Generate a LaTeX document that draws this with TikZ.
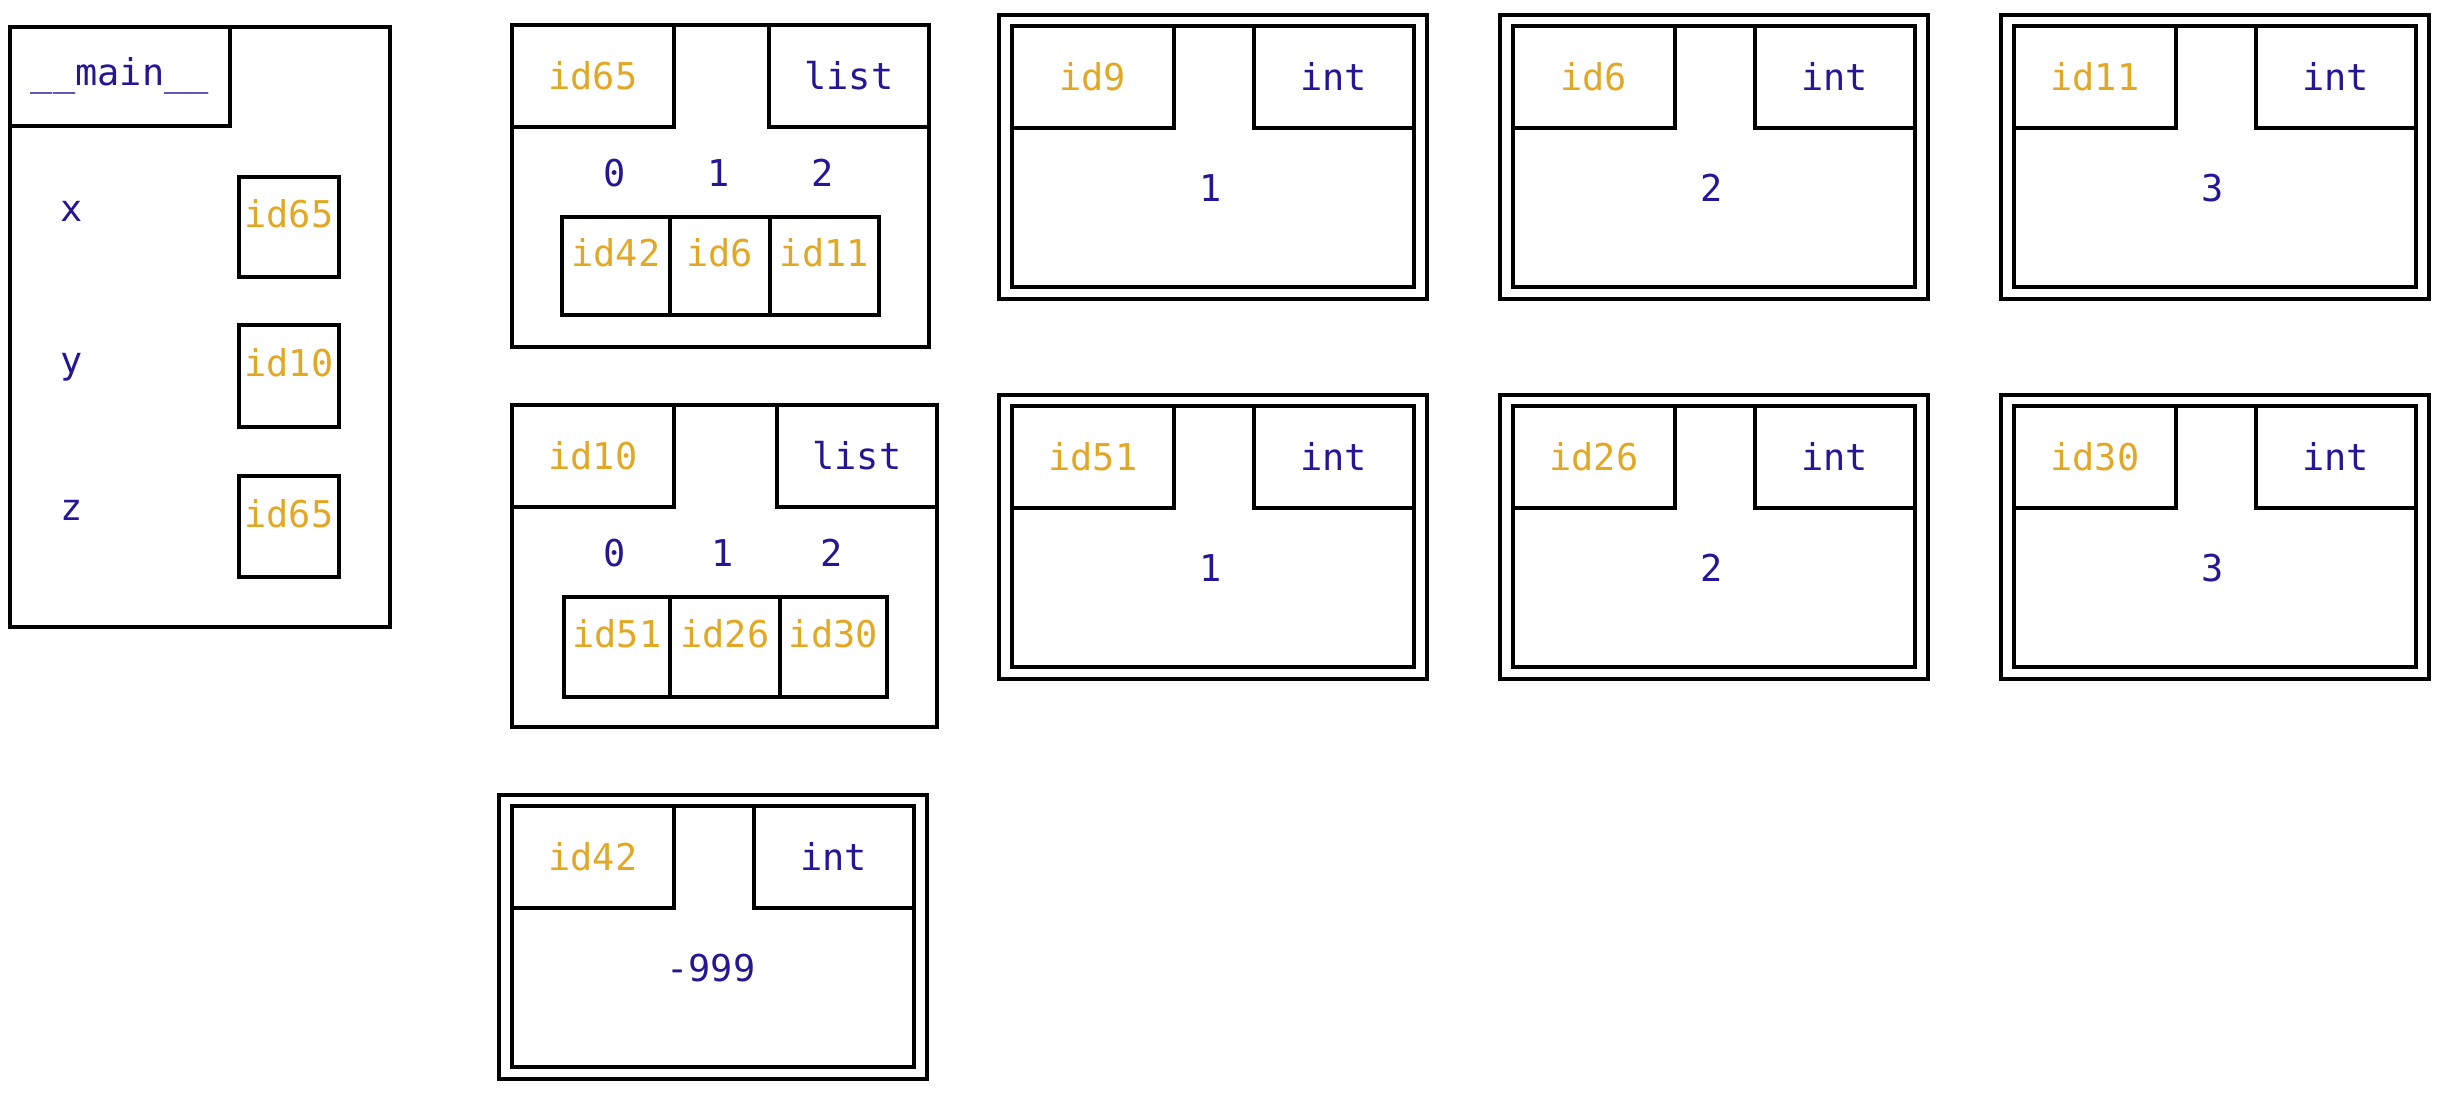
\documentclass[tikz,border=0pt]{standalone}
\usepackage{fontspec}
\setmonofont{DejaVu Sans Mono}
\definecolor{idgold}{RGB}{226,168,36}
\definecolor{tynavy}{RGB}{36,22,150}
\begin{document}
\begin{tikzpicture}[x=0.01cm, y=-0.01cm,
    every node/.style={font=\fontsize{10.5}{12}\selectfont\ttfamily},
    frame/.style={draw, line width=1pt, inner sep=0pt, anchor=north west},
    hdbox/.style={frame, minimum width=1.62cm, minimum height=1.02cm},
    tybox/.style={hdbox, minimum width=1.6cm, text=tynavy},
    refbox/.style={frame, text=idgold, text height=8pt, text depth=7.5pt},
    tyname/.style={text=tynavy, text height=1.5ex, text depth=.25ex},
    intout/.style={frame, minimum width=4.28cm, minimum height=2.84cm},
    intin/.style={frame, minimum width=4.02cm, minimum height=2.61cm}]
   \useasboundingbox (0,0) rectangle (2456,1099);
   % the frame __main__
   \node[frame, minimum width=3.8cm, minimum height=6cm] (main) at (8,25) {};
   \node[hdbox, minimum width=2.2cm, minimum height=0.99cm, text=tynavy] (mainhd) at (8,25) {\_\_main\_\_};
   \node[tyname] (vx) at (72,212) {x};
   \node[tyname] (vy) at (72,364) {y};
   \node[tyname] (vz) at (72,511) {z};
   \node[refbox, minimum width=1cm, minimum height=1cm] (rx) at (237,175) {id65};
   \node[refbox, minimum width=1cm, minimum height=1.02cm] (ry) at (237,323) {id10};
   \node[refbox, minimum width=1cm, minimum height=1.01cm] (rz) at (237,474) {id65};
   % list id65
   \node[frame, minimum width=4.17cm, minimum height=3.22cm] (l65) at (510,23) {};
   \node[hdbox, text=idgold] (l65id) at (510,23) {id65};
   \node[tybox] (l65ty) at (767,23) {list};
   \node[tyname] (l65n0) at (615,177) {0};
   \node[tyname] (l65n1) at (719,177) {1};
   \node[tyname] (l65n2) at (823,177) {2};
   \node[refbox, minimum width=1.08cm, minimum height=0.98cm] (l65e0) at (560,215) {id42};
   \node[refbox, minimum width=1.00cm, minimum height=0.98cm] (l65e1) at (668,215) {id6};
   \node[refbox, minimum width=1.09cm, minimum height=0.98cm] (l65e2) at (768,215) {id11};
   % list id10
   \node[frame, minimum width=4.25cm, minimum height=3.22cm] (l10) at (510,403) {};
   \node[hdbox, text=idgold] (l10id) at (510,403) {id10};
   \node[tybox] (l10ty) at (775,403) {list};
   \node[tyname] (l10n0) at (615,557) {0};
   \node[tyname] (l10n1) at (723,557) {1};
   \node[tyname] (l10n2) at (832,557) {2};
   \node[refbox, minimum width=1.06cm, minimum height=1cm] (l10e0) at (562,595) {id51};
   \node[refbox, minimum width=1.10cm, minimum height=1cm] (l10e1) at (668,595) {id26};
   \node[refbox, minimum width=1.07cm, minimum height=1cm] (l10e2) at (778,595) {id30};
   % ints
   \node[intout] (o9) at (997,13) {};
   \node[intin] (o9in) at (1010,24) {};
   \node[hdbox, text=idgold] (o9id) at (1010,24) {id9};
   \node[tybox] (o9ty) at (1252,24) {int};
   \node[tyname] (o9v) at (1211,192) {1};
   \node[intout] (o6) at (1498,13) {};
   \node[intin] (o6in) at (1511,24) {};
   \node[hdbox, text=idgold] (o6id) at (1511,24) {id6};
   \node[tybox] (o6ty) at (1753,24) {int};
   \node[tyname] (o6v) at (1712,192) {2};
   \node[intout] (o11) at (1999,13) {};
   \node[intin] (o11in) at (2012,24) {};
   \node[hdbox, text=idgold] (o11id) at (2012,24) {id11};
   \node[tybox] (o11ty) at (2254,24) {int};
   \node[tyname] (o11v) at (2213,192) {3};
   \node[intout] (o51) at (997,393) {};
   \node[intin] (o51in) at (1010,404) {};
   \node[hdbox, text=idgold] (o51id) at (1010,404) {id51};
   \node[tybox] (o51ty) at (1252,404) {int};
   \node[tyname] (o51v) at (1211,572) {1};
   \node[intout] (o26) at (1498,393) {};
   \node[intin] (o26in) at (1511,404) {};
   \node[hdbox, text=idgold] (o26id) at (1511,404) {id26};
   \node[tybox] (o26ty) at (1753,404) {int};
   \node[tyname] (o26v) at (1712,572) {2};
   \node[intout] (o30) at (1999,393) {};
   \node[intin] (o30in) at (2012,404) {};
   \node[hdbox, text=idgold] (o30id) at (2012,404) {id30};
   \node[tybox] (o30ty) at (2254,404) {int};
   \node[tyname] (o30v) at (2213,572) {3};
   \node[intout] (o42) at (497,793) {};
   \node[intin] (o42in) at (510,804) {};
   \node[hdbox, text=idgold] (o42id) at (510,804) {id42};
   \node[tybox] (o42ty) at (752,804) {int};
   \node[tyname] (o42v) at (711,972) {-999};
\end{tikzpicture}
\end{document}
